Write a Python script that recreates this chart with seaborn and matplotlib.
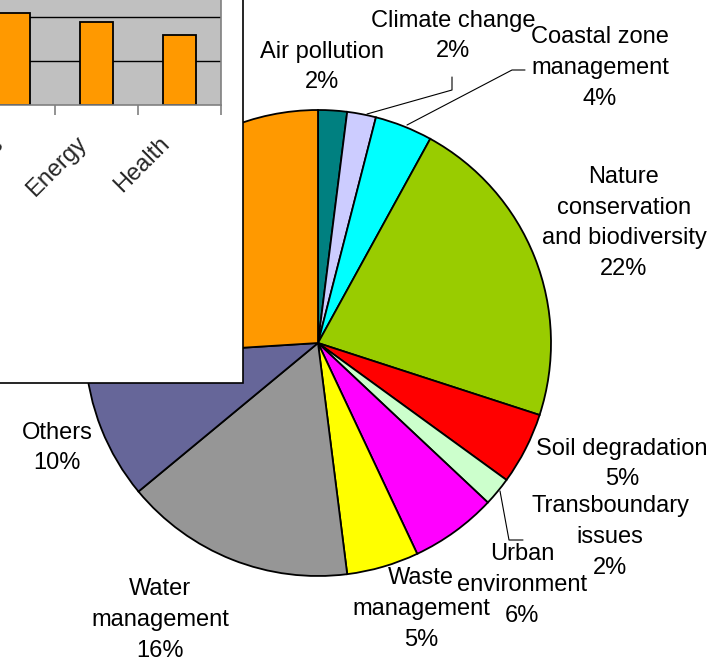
"""Pie chart of project shares by theme, with the bar inset for the orange slice."""

import matplotlib.pyplot as plt
import seaborn as sns
from matplotlib.patches import Rectangle

# --- data -------------------------------------------------------------------
themes = [
    "Air pollution", "Climate change", "Coastal zone management",
    "Nature conservation and biodiversity", "Soil degradation",
    "Transboundary issues", "Urban environment", "Waste management",
    "Water management", "Others", "Sectoral integration",
]
shares = [2, 2, 4, 22, 5, 2, 6, 5, 16, 10, 26]
slice_colors = [
    "#008080", "#CCCCFF", "#00FFFF", "#99CC00", "#FF0000", "#CCFFCC",
    "#FF00FF", "#FFFF00", "#969696", "#666699", "#FF9900",
]
label_text = [
    "Air pollution\n2%", "Climate change\n2%", "Coastal zone\nmanagement\n4%",
    "Nature\nconservation\nand biodiversity\n22%", "Soil degradation\n5%",
    "Transboundary\nissues\n2%", "Urban\nenvironment\n6%", "Waste\nmanagement\n5%",
    "Water\nmanagement\n16%", "Others\n10%", None,
]

sectors = ["Chemicals", "Energy", "Health"]
sector_values = [10.4, 9.4, 8.0]

# --- layout (pixels, y measured from the top) -------------------------------
W, H = 721, 665
label_pos = [
    (322, 67), (453, 36), (600, 68), (624, 223), (622, 464),
    (610, 537), (522, 585), (421, 609), (160, 620), (57, 448), None,
]
leaders = [
    [(452, 77), (452, 90), (367, 114)],
    [(525, 70), (512, 70), (407, 125)],
    [(523, 540), (509, 540), (500, 491)],
]
FS = 17


def px(x, y):
    return x, H - y


sns.set_theme(style="white")
plt.rcParams["font.family"] = ["Liberation Sans", "DejaVu Sans"]

fig = plt.figure(figsize=(W / 100, H / 100), dpi=100)
ax = fig.add_axes([0, 0, 1, 1])
ax.pie(
    shares, colors=slice_colors, startangle=90, counterclock=False,
    radius=233, center=px(318, 343),
    wedgeprops=dict(edgecolor="black", linewidth=1.3),
)
ax.set_xlim(0, W)
ax.set_ylim(0, H)
ax.set_aspect("equal")
ax.axis("off")

for text, pos in zip(label_text, label_pos):
    if text is None:
        continue
    ax.text(*px(*pos), text, ha="center", va="center", fontsize=FS,
            linespacing=1.52, color="black")

for pts in leaders:
    xs, ys = zip(*(px(*p) for p in pts))
    ax.plot(xs, ys, color="black", linewidth=0.8)

# white frame of the inset chart
ax.add_patch(Rectangle(px(-5, 383), 248, 390, facecolor="white",
                       edgecolor="black", linewidth=1.2, zorder=5))

# bar inset
left, right, bottom = -28, 221, 105
bax = fig.add_axes([left / W, (H - bottom) / H, (right - left) / W, 132 / H])
sns.barplot(x=sectors, y=sector_values, color="#FF9900", edgecolor="black",
            linewidth=1.3, width=0.4, saturation=1, ax=bax)
bax.set_facecolor("#C0C0C0")
bax.set_ylim(0, 15)
bax.set_xlim(-0.5, len(sectors) - 0.5)
bax.set_yticks([5, 10, 15])
bax.set_yticklabels([])
bax.yaxis.grid(True, color="black", linewidth=1)
bax.set_axisbelow(True)
for side in ("top", "left"):
    bax.spines[side].set_visible(False)
for side in ("bottom", "right"):
    bax.spines[side].set_color("#808080")
    bax.spines[side].set_linewidth(1.2)
bax.set_xticks([i - 0.25 for i in range(len(sectors))], labels=sectors)
bax.set_xticks([i - 0.5 for i in range(len(sectors) + 1)], minor=True)
bax.tick_params(axis="x", which="minor", length=7, color="#808080", width=1.2,
                bottom=True)
bax.tick_params(axis="x", which="major", length=0, pad=20, labelsize=FS)
bax.tick_params(axis="y", length=0)
for lab in bax.get_xticklabels():
    lab.set_rotation(45)
    lab.set_ha("right")
    lab.set_va("top")
    lab.set_rotation_mode("anchor")
bax.set_xlabel("")
bax.set_ylabel("")
bax.set_zorder(6)

fig.savefig("out.png", dpi=100)
